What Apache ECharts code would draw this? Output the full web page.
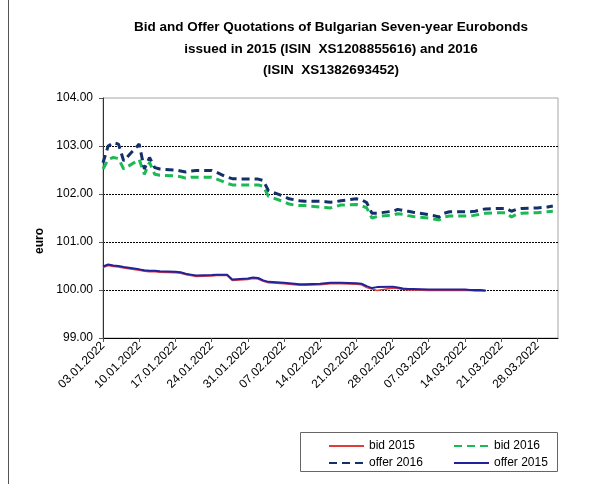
<!DOCTYPE html>
<html>
<head>
<meta charset="utf-8">
<script src="https://cdn.jsdelivr.net/npm/echarts@6/dist/echarts.min.js"></script>
<style>
  html, body { margin: 0; padding: 0; background: #fff; }
  #chart { width: 599px; height: 484px; }
</style>
</head>
<body>
<div id="chart"></div>
<script>
// trading days
var dates = [
  '03.01.2022','04.01.2022','05.01.2022','06.01.2022','07.01.2022',
  '10.01.2022','11.01.2022','12.01.2022','13.01.2022','14.01.2022',
  '17.01.2022','18.01.2022','19.01.2022','20.01.2022','21.01.2022',
  '24.01.2022','25.01.2022','26.01.2022','27.01.2022','28.01.2022',
  '31.01.2022','01.02.2022','02.02.2022','03.02.2022','04.02.2022',
  '07.02.2022','08.02.2022','09.02.2022','10.02.2022','11.02.2022',
  '14.02.2022','15.02.2022','16.02.2022','17.02.2022','18.02.2022',
  '21.02.2022','22.02.2022','23.02.2022','24.02.2022','25.02.2022',
  '28.02.2022','01.03.2022','02.03.2022','03.03.2022','04.03.2022',
  '07.03.2022','08.03.2022','09.03.2022','10.03.2022','11.03.2022',
  '14.03.2022','15.03.2022','16.03.2022','17.03.2022','18.03.2022',
  '21.03.2022','22.03.2022','23.03.2022','24.03.2022','25.03.2022',
  '28.03.2022','29.03.2022','30.03.2022','31.03.2022'
];

var bid2015 = [
  100.47,100.51,100.49,100.48,100.46,
  100.41,100.39,100.38,100.38,100.37,
  100.36,100.35,100.32,100.30,100.28,
  100.29,100.30,100.30,100.30,100.20,
  100.22,100.24,100.23,100.18,100.15,
  100.13,100.12,100.11,100.10,100.10,
  100.11,100.12,100.13,100.13,100.13,
  100.12,100.11,100.05,100.02,99.99,
  100.04,100.03,100.01,100.00,100.00,
  99.99,99.99,99.99,99.99,99.99,
  99.99,99.99,99.98,99.98,99.98,
  null,null,null,null,null,
  null,null,null,null
];
var offer2015 = [
  100.49,100.53,100.51,100.50,100.48,
  100.43,100.41,100.40,100.40,100.39,
  100.38,100.37,100.34,100.32,100.30,
  100.31,100.32,100.32,100.32,100.22,
  100.24,100.26,100.25,100.20,100.17,
  100.15,100.14,100.13,100.12,100.12,
  100.13,100.14,100.15,100.15,100.15,
  100.14,100.13,100.08,100.04,100.06,
  100.07,100.05,100.03,100.02,100.02,
  100.01,100.01,100.01,100.01,100.01,
  100.01,100.00,100.00,100.00,99.99,
  null,null,null,null,null,
  null,null,null,null
];
var bid2016 = [
  102.52,102.72,102.76,102.74,102.52,
  102.72,102.41,102.66,102.41,102.39,
  102.38,102.36,102.33,102.35,102.35,
  102.35,102.31,102.27,102.22,102.19,
  102.19,102.19,102.19,102.16,101.95,
  101.84,101.79,101.77,101.76,101.76,
  101.73,101.72,101.71,101.74,101.77,
  101.78,101.76,101.71,101.50,101.53,
  101.56,101.59,101.58,101.55,101.53,
  101.50,101.48,101.46,101.52,101.54,
  101.54,101.54,101.56,101.58,101.60,
  101.61,101.61,101.52,101.58,101.60,
  101.61,101.62,101.63,101.64
];
var offer2016 = [
  102.65,103.00,103.07,103.04,102.69,
  103.04,102.52,102.76,102.55,102.52,
  102.50,102.48,102.46,102.48,102.49,
  102.49,102.45,102.40,102.35,102.32,
  102.31,102.31,102.31,102.28,102.07,
  101.95,101.90,101.88,101.86,101.85,
  101.85,101.84,101.83,101.84,101.86,
  101.90,101.88,101.82,101.60,101.60,
  101.64,101.68,101.66,101.64,101.62,
  101.57,101.55,101.52,101.60,101.63,
  101.63,101.63,101.64,101.67,101.69,
  101.70,101.70,101.64,101.68,101.70,
  101.71,101.72,101.73,101.75
];

var xTickLabels = ['03.01.2022','10.01.2022','17.01.2022','24.01.2022','31.01.2022','07.02.2022',
  '14.02.2022','21.02.2022','28.02.2022','07.03.2022','14.03.2022','21.03.2022','28.03.2022'];

// days since 03.01.2022
function dayNo(s) {
  var p = s.split('.');
  var t = Date.UTC(+p[2], +p[1] - 1, +p[0]);
  return Math.round((t - Date.UTC(2022, 0, 3)) / 86400000);
}
function pairs(vals) {
  return dates.map(function (d, i) { return [dayNo(d), vals[i]]; });
}

var font = 'Arial, "Liberation Sans", sans-serif';
var legendCommon = {
  orient: 'vertical', top: 435, itemGap: 5,
  itemWidth: 35, itemHeight: 14,
  itemStyle: { opacity: 0 },
  textStyle: { fontSize: 12, color: '#000', fontFamily: font }
};
var chart = echarts.init(document.getElementById('chart'));
chart.setOption({
  backgroundColor: '#fff',
  animation: false,
  textStyle: { fontFamily: font },
  title: {
    text: 'Bid and Offer Quotations of Bulgarian Seven-year Eurobonds\nissued in 2015 (ISIN  XS1208855616) and 2016\n(ISIN  XS1382693452)',
    left: 331,
    top: 17,
    padding: 0,
    textAlign: 'center',
    textStyle: { fontSize: 13.5, fontWeight: 'bold', color: '#000', lineHeight: 21.5, fontFamily: font }
  },
  grid: {
    left: 103, right: 41, top: 98, bottom: 146,
    show: true, borderColor: '#a6a6a6', borderWidth: 1
  },
  legend: [
    Object.assign({ left: 323, data: ['bid 2015', 'offer 2016'] }, legendCommon),
    Object.assign({ left: 448, data: ['bid 2016', 'offer 2015'] }, legendCommon)
  ],
  graphic: [
    { type: 'line', shape: { x1: 8.5, y1: 0, x2: 8.5, y2: 484 }, style: { stroke: '#555', lineWidth: 1 } },
    { type: 'rect', shape: { x: 300.5, y: 432.5, width: 257, height: 39 }, style: { fill: 'none', stroke: '#666', lineWidth: 1 } },
    { type: 'text', x: 40, y: 241, rotation: Math.PI / 2,
      style: { text: 'euro', font: 'bold 12px ' + font, fill: '#000', align: 'center', verticalAlign: 'middle' } }
  ],
  xAxis: {
    type: 'value', min: 0, max: 88, interval: 7,
    axisLine: { lineStyle: { color: '#000', width: 1 } },
    axisTick: { show: true, length: 4, lineStyle: { color: '#555' } },
    splitLine: { show: false },
    axisLabel: {
      rotate: 45, fontSize: 12, color: '#000', margin: 6, showMaxLabel: false,
      formatter: function (v) { return v % 7 === 0 ? (xTickLabels[v / 7] || '') : ''; }
    }
  },
  yAxis: {
    type: 'value', min: 99, max: 104, interval: 1,
    axisLine: { show: true, lineStyle: { color: '#333', width: 1 } },
    axisTick: { show: true, length: 4, lineStyle: { color: '#555' } },
    splitLine: { show: true, showMinLine: false, showMaxLine: false, lineStyle: { color: '#000', type: [2, 1], width: 1 } },
    axisLabel: { fontSize: 12, color: '#000', margin: 10, formatter: function (v) { return v.toFixed(2); } }
  },
  series: [{
    name: 'bid 2015', type: 'line', symbol: 'none', data: pairs(bid2015),
    lineStyle: { color: '#e03c3c', width: 1.5 }, itemStyle: { color: '#e03c3c' }
  }, {
    name: 'bid 2016', type: 'line', symbol: 'none', data: pairs(bid2016),
    lineStyle: { color: '#1db954', width: 3, type: [8, 5] }, itemStyle: { color: '#1db954' }
  }, {
    name: 'offer 2016', type: 'line', symbol: 'none', data: pairs(offer2016),
    lineStyle: { color: '#13306b', width: 3, type: [8, 5] }, itemStyle: { color: '#13306b' }
  }, {
    name: 'offer 2015', type: 'line', symbol: 'none', data: pairs(offer2015),
    lineStyle: { color: '#22229a', width: 2 }, itemStyle: { color: '#22229a' }
  }]
});
</script>
</body>
</html>
